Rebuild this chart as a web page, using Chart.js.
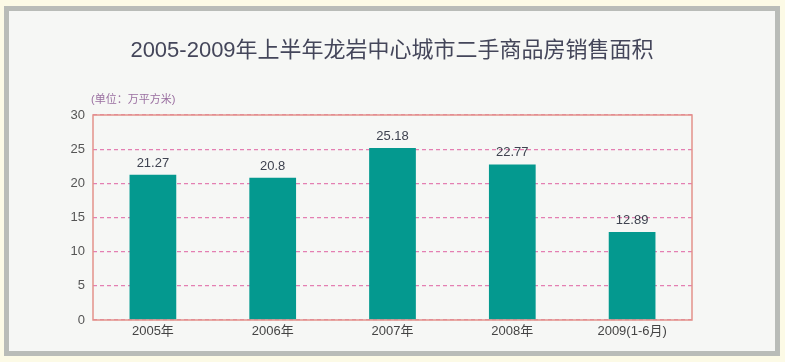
<!DOCTYPE html>
<html>
<head>
<meta charset="utf-8">
<script src="https://cdn.jsdelivr.net/npm/chart.js@4"></script>
<style>
  html, body { margin: 0; padding: 0; background: #fcfae6; }
  #frame {
    position: absolute; left: 4px; top: 6px;
    width: 776px; height: 350px; box-sizing: border-box;
    border: 5px solid #b9bcb8; background: #f6f7f5;
  }
  #wrap { position: relative; width: 766px; height: 340px; }
</style>
</head>
<body>
<div id="frame"><div id="wrap"><canvas id="areaChart"></canvas></div></div>
<script>
// 龙岩中心城市二手商品房销售面积 (万平方米)
const years = ['2005年', '2006年', '2007年', '2008年', '2009(1-6月)'];
const areaValues = [21.27, 20.8, 25.18, 22.77, 12.89];
const valueLabels = ['21.27', '20.8', '25.18', '22.77', '12.89'];
const titleText = '2005-2009年上半年龙岩中心城市二手商品房销售面积';
const unitText = '(单位：万平方米)';

const fontFamily = '"Liberation Sans", "Noto Sans CJK SC", sans-serif';

// title, value on top of each bar, unit label and the plot frame
const extrasPlugin = {
    id: 'extras',
    afterDatasetsDraw(chart) {
        const ctx = chart.ctx;
        const area = chart.chartArea;
        ctx.save();
        ctx.strokeStyle = '#e3928a';
        ctx.lineWidth = 1.5;
        ctx.strokeRect(area.left, area.top, area.right - area.left, area.bottom - area.top);

        ctx.font = '13px ' + fontFamily;
        ctx.fillStyle = '#3f4350';
        ctx.textAlign = 'center';
        ctx.textBaseline = 'bottom';
        const meta = chart.getDatasetMeta(0);
        meta.data.forEach((bar, i) => {
            ctx.fillText(valueLabels[i], bar.x, bar.y - 5);
        });

        ctx.font = '11px ' + fontFamily;
        ctx.fillStyle = '#9a6fa0';
        ctx.textAlign = 'left';
        ctx.textBaseline = 'middle';
        ctx.fillText(unitText, area.left - 2, area.top - 15);

        ctx.font = '22px ' + fontFamily;
        ctx.fillStyle = '#44465a';
        ctx.textAlign = 'center';
        ctx.fillText(titleText, chart.width / 2, 40);
        ctx.restore();
    }
};

const ctx = document.getElementById('areaChart').getContext('2d');
const areaChart = new Chart(ctx, {
    type: 'bar',
    data: {
        labels: years,
        datasets: [{
            data: areaValues,
            backgroundColor: '#04998f',
            borderWidth: 0,
            barPercentage: 0.39,
            categoryPercentage: 1
        }]
    },
    options: {
        responsive: true,
        maintainAspectRatio: false,
        animation: false,
        layout: { padding: { left: 0, right: 83, top: 104, bottom: 0 } },
        plugins: {
            legend: { display: false },
            tooltip: { enabled: false },
            title: { display: false }
        },
        scales: {
            y: {
                min: 0,
                max: 30,
                ticks: {
                    stepSize: 5,
                    color: '#555',
                    padding: 8,
                    font: { size: 13, family: fontFamily }
                },
                border: { display: false, dash: [4, 3] },
                grid: {
                    drawTicks: false,
                    lineWidth: 1.2,
                    color: '#e47fb2'
                },
                afterFit: function(scale) { scale.width = 84; }
            },
            x: {
                ticks: {
                    color: '#444',
                    padding: 4,
                    font: { size: 13, family: fontFamily }
                },
                border: { display: false },
                grid: { display: false, drawTicks: false },
                afterFit: function(scale) { scale.height = 31; }
            }
        }
    },
    plugins: [extrasPlugin]
});
</script>
</body>
</html>
